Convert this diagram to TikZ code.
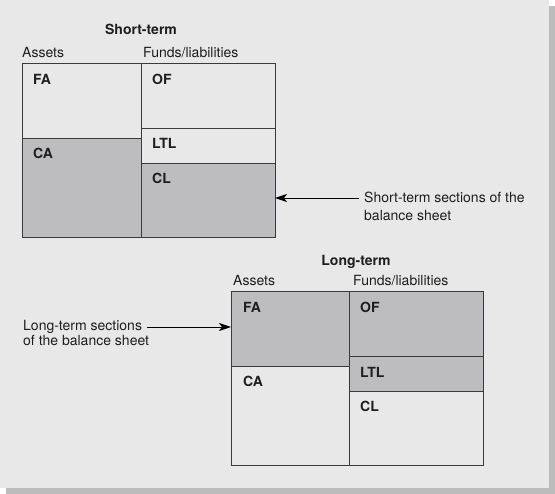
\documentclass[tikz,border=0pt]{standalone}
\usepackage{fontspec}
\setmainfont{TeX Gyre Heros}
\usetikzlibrary{arrows.meta}
\definecolor{bgc}{HTML}{E8E8E8}
\definecolor{shadowc}{HTML}{BCBCBD}
\definecolor{cellgray}{HTML}{BDBDBF}
\definecolor{linec}{HTML}{3A3A3A}
\definecolor{textc}{HTML}{1E1E1E}
\tikzset{
  cell/.style={draw=linec, line width=1pt, inner sep=0pt, outer sep=0pt, anchor=north west},
  lightcell/.style={cell, fill=bgc},
  graycell/.style={cell, fill=cellgray},
  txt/.style={font=\fontsize{14}{17}\selectfont, text=textc, inner sep=0pt, anchor=base west},
  btxt/.style={txt, font=\fontsize{14}{17}\selectfont\bfseries},
  ttl/.style={btxt, anchor=base},
  arr/.style={draw=black, line width=0.9pt, -{Stealth[length=12pt,width=8pt,inset=3pt]}}
}
\begin{document}
\begin{tikzpicture}[x=1pt,y=-1pt]
\useasboundingbox (0,0) rectangle (555,494);
\fill[shadowc] (6,6) rectangle (555,494);
\fill[bgc] (0,0) rectangle (549,488);

% Short-term
\node[ttl] (stitle) at (141,35) {Short-term};
\node[txt] (sassets) at (22,58) {Assets};
\node[txt] (sfunds) at (143,58) {Funds/liabilities};
\node[lightcell, minimum width=119pt, minimum height=75pt] (sFA) at (22,64) {};
\node[graycell, minimum width=119pt, minimum height=99pt] (sCA) at (22,139) {};
\node[lightcell, minimum width=134pt, minimum height=65pt] (sOF) at (141,64) {};
\node[lightcell, minimum width=134pt, minimum height=35pt] (sLTL) at (141,129) {};
\node[graycell, minimum width=134pt, minimum height=74pt] (sCL) at (141,164) {};
\node[btxt] (sFAt) at (33,85) {FA};
\node[btxt] (sCAt) at (33,159) {CA};
\node[btxt] (sOFt) at (152,85) {OF};
\node[btxt] (sLTLt) at (152,149) {LTL};
\node[btxt] (sCLt) at (152,184) {CL};

% Short-term annotation
\node[txt] (sn1) at (364,203) {Short-term sections of the};
\node[txt] (sn2) at (364,220.5) {balance sheet};
\coordinate (sa) at (359,198);
\draw[arr] (sa) -- (sa -| sCL.east);

% Long-term
\node[ttl] (ltitle) at (356,266) {Long-term};
\node[txt] (lassets) at (233,286) {Assets};
\node[txt] (lfunds) at (353,286) {Funds/liabilities};
\node[graycell, minimum width=118pt, minimum height=75pt] (lFA) at (231,292) {};
\node[lightcell, minimum width=118pt, minimum height=99pt] (lCA) at (231,367) {};
\node[graycell, minimum width=134pt, minimum height=65pt] (lOF) at (349,292) {};
\node[graycell, minimum width=134pt, minimum height=35pt] (lLTL) at (349,357) {};
\node[lightcell, minimum width=134pt, minimum height=74pt] (lCL) at (349,392) {};
\node[btxt] (lFAt) at (243,313) {FA};
\node[btxt] (lCAt) at (243,387) {CA};
\node[btxt] (lOFt) at (360,313) {OF};
\node[btxt] (lLTLt) at (360,378) {LTL};
\node[btxt] (lCLt) at (360,412) {CL};

% Long-term annotation
\node[txt] (ln1) at (23,331) {Long-term sections};
\node[txt] (ln2) at (23,346) {of the balance sheet};
\coordinate (la) at (147,327);
\draw[arr] (la) -- (la -| lFA.west);
\end{tikzpicture}
\end{document}
